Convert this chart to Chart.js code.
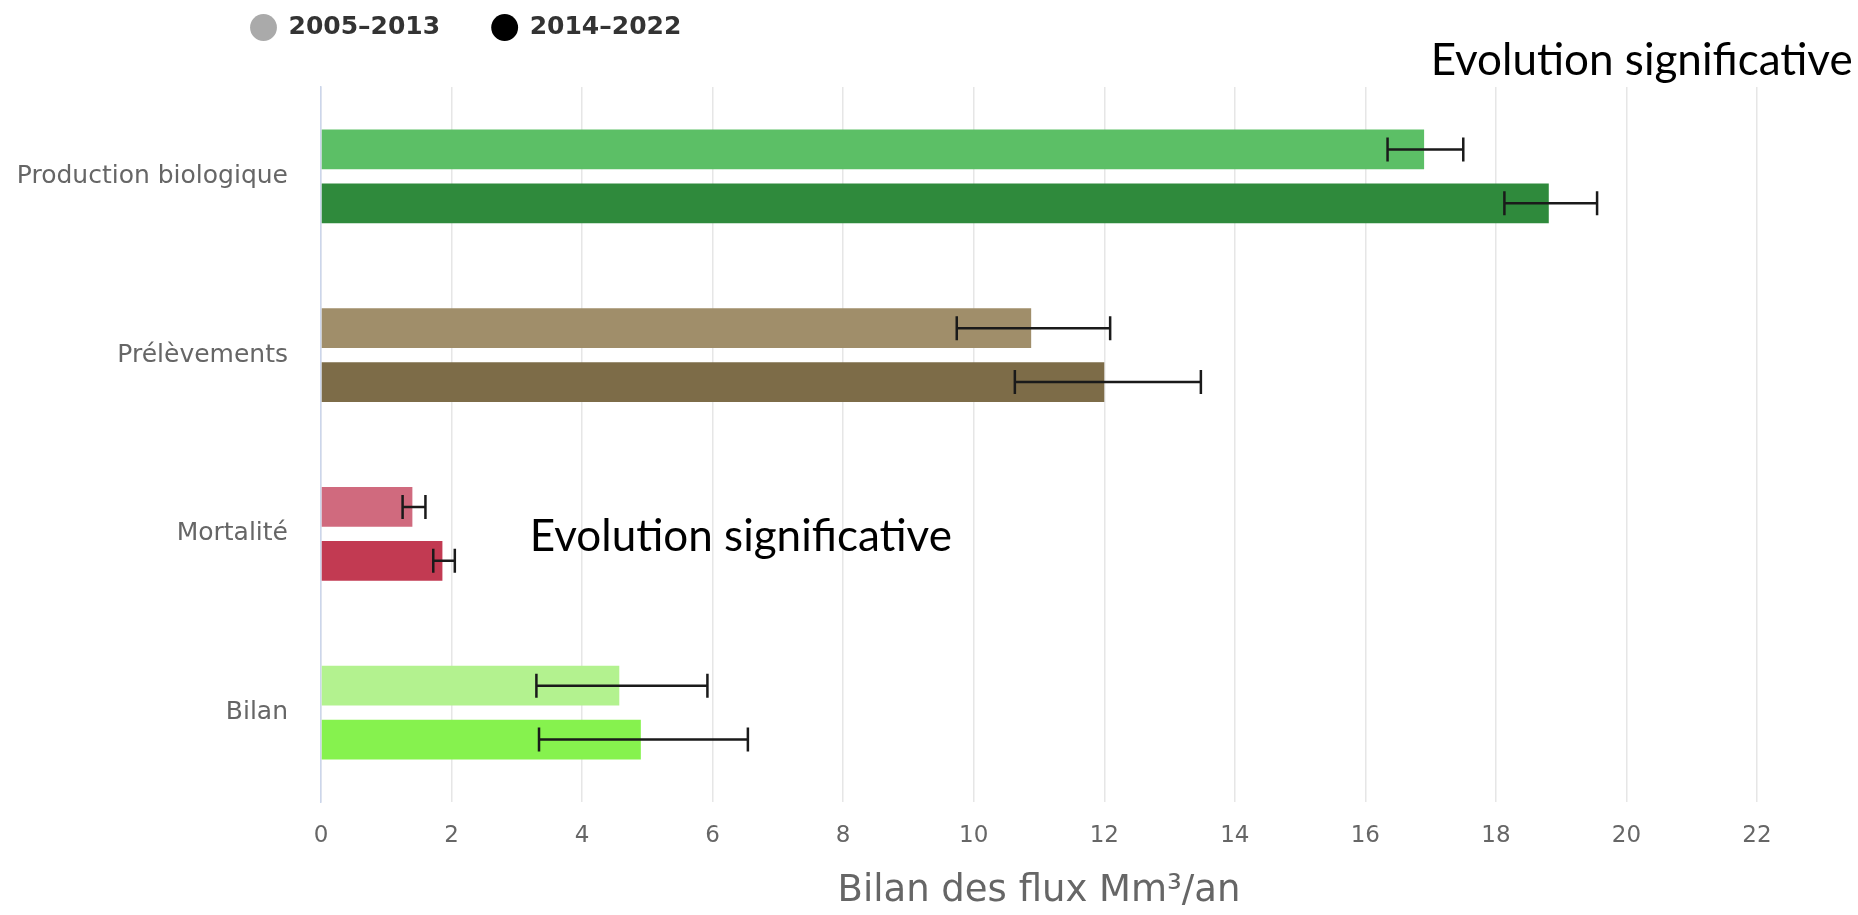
<!DOCTYPE html>
<html><head><meta charset="utf-8">
<script src="https://cdn.jsdelivr.net/npm/chart.js@4/dist/chart.umd.min.js"></script>
<style>html,body{margin:0;padding:0;background:#fff;overflow:hidden}#wrap{position:relative;width:1858px;height:915px}</style>
</head><body><div id="wrap"><canvas id="c" width="1858" height="915"></canvas></div>
<script>
// ---- data ----
const categories = ['Production biologique', 'Prélèvements', 'Mortalité', 'Bilan'];
const seriesNames = ['2005–2013', '2014–2022'];
const values2005 = [16.9, 10.88, 1.4, 4.57];
const values2014 = [18.81, 12.0, 1.86, 4.9];
const errLow2005 = [16.34, 9.74, 1.25, 3.3];
const errHigh2005 = [17.5, 12.09, 1.6, 5.92];
const errLow2014 = [18.13, 10.63, 1.72, 3.34];
const errHigh2014 = [19.55, 13.48, 2.05, 6.54];
const xTicks = [0, 2, 4, 6, 8, 10, 12, 14, 16, 18, 20, 22];
const axisTitle = 'Bilan des flux Mm³/an';
const noteText = 'Evolution significative';

// ---- styles ----
const colors2005 = ['#5cbf66', '#a08e6a', '#d06a7e', '#b3f28f'];
const colors2014 = ['#2f8a3c', '#7d6c48', '#c23a52', '#86f24e'];
const legendColors = ['#aaaaaa', '#000000'];

Chart.defaults.font.family = "'DejaVu Sans', Verdana, sans-serif";

const errorBarPlugin = {
  id: 'errorBars',
  afterDatasetsDraw(chart) {
    const ctx = chart.ctx, xs = chart.scales.x;
    chart.data.datasets.forEach((ds, di) => {
      const meta = chart.getDatasetMeta(di);
      meta.data.forEach((bar, i) => {
        const lo = xs.getPixelForValue(ds.errLow[i]);
        const hi = xs.getPixelForValue(ds.errHigh[i]);
        const y = bar.y, cap = bar.height * 0.3;
        ctx.save();
        ctx.strokeStyle = '#1a1a1a';
        ctx.lineWidth = 2.5;
        ctx.beginPath();
        ctx.moveTo(lo, y); ctx.lineTo(hi, y);
        ctx.moveTo(lo, y - cap); ctx.lineTo(lo, y + cap);
        ctx.moveTo(hi, y - cap); ctx.lineTo(hi, y + cap);
        ctx.stroke();
        ctx.restore();
      });
    });
  }
};

const notes = [
  { x: 17.0, cat: 0, dy: -116 },
  { x: 3.2, cat: 2, dy: 3 }
];
const notePlugin = {
  id: 'notes',
  afterDraw(chart) {
    const ctx = chart.ctx, xs = chart.scales.x, ys = chart.scales.y;
    ctx.save();
    ctx.font = "44px Lato, 'Open Sans', sans-serif";
    ctx.fillStyle = '#000';
    ctx.textAlign = 'left';
    ctx.textBaseline = 'middle';
    notes.forEach(n => {
      ctx.fillText(noteText, xs.getPixelForValue(n.x), ys.getPixelForValue(n.cat) + n.dy);
    });
    ctx.restore();
  }
};

const legendShift = {
  id: 'legendShift',
  afterLayout(chart) {
    const lg = chart.legend;
    const p = lg.options.labels.padding;
    lg.left = 251 - p;
    lg.top = 15 - p;
  }
};

new Chart(document.getElementById('c'), {
  type: 'bar',
  data: {
    labels: categories,
    datasets: [
      { label: seriesNames[0], data: values2005, backgroundColor: colors2005, errLow: errLow2005, errHigh: errHigh2005,
        categoryPercentage: 0.603, barPercentage: 0.74 },
      { label: seriesNames[1], data: values2014, backgroundColor: colors2014, errLow: errLow2014, errHigh: errHigh2014,
        categoryPercentage: 0.603, barPercentage: 0.74 }
    ]
  },
  options: {
    indexAxis: 'y',
    responsive: false,
    animation: false,
    layout: { padding: { left: 0, right: 101, top: 0, bottom: 0 } },
    plugins: {
      tooltip: { enabled: false },
      legend: {
        position: 'top',
        align: 'start',
        maxHeight: 87,
        labels: {
          usePointStyle: true,
          pointStyle: 'circle',
          boxWidth: 25,
          boxHeight: 19,
          padding: 52,
          color: '#333333',
          font: { size: 25, weight: 'bold' },
          generateLabels(chart) {
            return chart.data.datasets.map((ds, i) => ({
              text: ds.label,
              fillStyle: legendColors[i],
              strokeStyle: legendColors[i],
              lineWidth: 0,
              pointStyle: 'circle',
              fontColor: '#333333',
              datasetIndex: i,
              hidden: false
            }));
          }
        }
      }
    },
    scales: {
      x: {
        type: 'linear',
        min: 0,
        max: 22,
        afterBuildTicks(scale) { scale.ticks = xTicks.map(v => ({ value: v })); },
        afterFit(scale) { scale.height = 113; },
        grid: { color: '#e6e6e6', lineWidth: 1.5, drawTicks: false },
        border: { display: false },
        ticks: { color: '#666666', font: { size: 23 }, padding: 20 },
        title: { display: true, text: axisTitle, color: '#666666', font: { size: 37 }, padding: { top: 0, bottom: 1 } }
      },
      y: {
        type: 'category',
        afterFit(scale) { scale.width = 321; },
        grid: { display: false, drawTicks: false },
        border: { display: true, color: '#ccd6eb', width: 1.5 },
        ticks: { color: '#666666', font: { size: 25 }, padding: 33 }
      }
    }
  },
  plugins: [errorBarPlugin, notePlugin, legendShift]
});
</script>
</body></html>
